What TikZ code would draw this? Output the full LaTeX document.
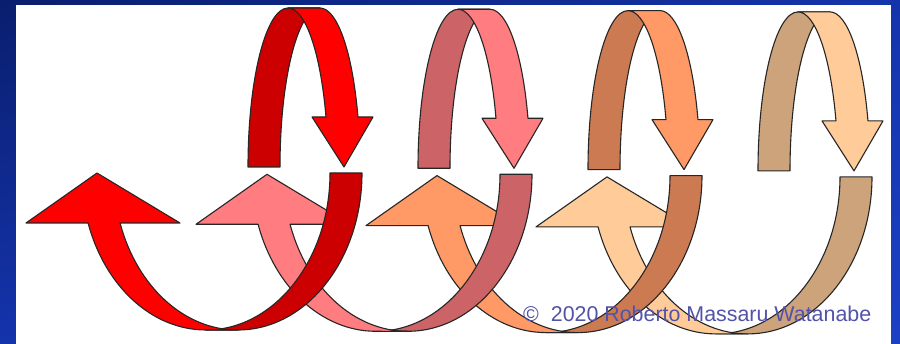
\documentclass[tikz,border=0pt]{standalone}
\usepackage{fontspec}
\setmainfont{Liberation Sans}
\usepackage{tikz}
\usetikzlibrary{shadings}
\definecolor{RMRed}{HTML}{FF0000}
\definecolor{RMRedDark}{HTML}{CC0000}
\definecolor{RMPink}{HTML}{FF7C80}
\definecolor{RMPinkDark}{HTML}{CC6366}
\definecolor{RMOrange}{HTML}{FF9966}
\definecolor{RMOrangeDark}{HTML}{CC7A52}
\definecolor{RMTan}{HTML}{FFCC99}
\definecolor{RMTanDark}{HTML}{CCA37A}
\definecolor{RMText}{HTML}{5252AA}
\definecolor{RMNavy}{HTML}{0A1E6E}
\definecolor{RMMidBlue}{HTML}{1434AC}
\definecolor{RMBlue}{HTML}{1C40C4}

\begin{document}
\begin{tikzpicture}[x=1pt, y=1pt,
    ribbon/.style={draw=black!85, line width=1.1pt, line join=round},
    upr/.style={x radius=40pt, y radius=159pt},
    lwr/.style={x radius=124.2pt, y radius=157pt}]
  \shade[upper left=RMNavy, upper right=RMMidBlue, lower left=RMMidBlue, lower right=RMBlue]
    (0,0) rectangle (900,344);
  \fill[white] (16,0) rectangle (891,339);
  \useasboundingbox (0,0) rectangle (900,344);
  % back to front: tan, orange, pink, red
  \foreach \i/\lite/\dark in {3/RMTan/RMTanDark, 2/RMOrange/RMOrangeDark,
                              1/RMPink/RMPinkDark, 0/RMRed/RMRedDark} {
    \begin{scope}[shift={(170*\i,-1.3*\i)}]
      % upper loop, arrow down
      \draw[ribbon, fill=\dark] (248,177) arc[start angle=180, end angle=90, upr]
        -- (320,336) arc[start angle=90, end angle=180, upr] -- cycle;
      \draw[ribbon, fill=\lite] (288,336) arc[start angle=90, end angle=18.33, upr]
        -- (312,227) -- (344,177) -- (373,227) -- (357.97,227)
        arc[start angle=18.33, end angle=90, upr] -- cycle;
      % lower loop, arrow up
      \draw[ribbon, fill=\dark] (330,171) arc[start angle=0, end angle=-90, lwr]
        -- (237.8,14) arc[start angle=-90, end angle=0, lwr] -- cycle;
      \draw[ribbon, fill=\lite] (205.8,14) arc[start angle=270, end angle=198.56, lwr]
        -- (26,121) -- (97,171) -- (180,121) -- (120.06,121)
        arc[start angle=198.56, end angle=270, lwr] -- cycle;
    \end{scope}
  }
  \node[anchor=base west, inner sep=0pt, text=RMText,
        font=\fontsize{21.4}{24}\selectfont] (credit) at (523,22)
    {©\ \ 2020 Roberto Massaru Watanabe};
\end{tikzpicture}
\end{document}
